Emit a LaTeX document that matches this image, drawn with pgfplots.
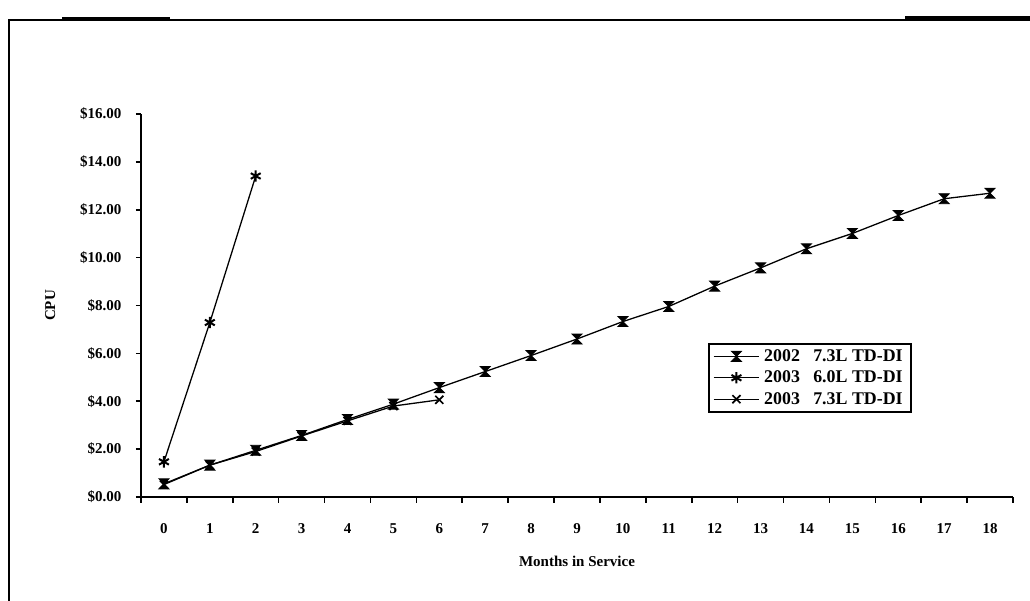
\documentclass[border=0pt]{standalone}
\usepackage{fontspec}
\setmainfont{Liberation Serif}
\usepackage{pgfplots}
\pgfplotsset{compat=1.18}

\pgfdeclareplotmark{hourglass}{%
  \pgfpathmoveto{\pgfqpoint{-\pgfplotmarksize}{\pgfplotmarksize}}%
  \pgfpathlineto{\pgfqpoint{\pgfplotmarksize}{\pgfplotmarksize}}%
  \pgfpathlineto{\pgfqpoint{-\pgfplotmarksize}{-\pgfplotmarksize}}%
  \pgfpathlineto{\pgfqpoint{\pgfplotmarksize}{-\pgfplotmarksize}}%
  \pgfpathclose
  \pgfusepathqfillstroke
}

\begin{document}
\begin{tikzpicture}
\useasboundingbox (0pt,0pt) rectangle (721pt,420.7pt);
\draw[line width=1.3pt] (6.3pt,0pt) -- (6.3pt,406.7pt) -- (721pt,406.7pt);
\draw[line width=2.6pt] (43.4pt,407.4pt) -- (119pt,407.4pt);
\draw[line width=2.6pt] (633.5pt,408pt) -- (721pt,408pt);
\begin{axis}[
  at={(98.7pt,72.8pt)}, anchor=south west,
  width=610.4pt, height=268.1pt, scale only axis,
  xmin=-0.5, xmax=18.5, ymin=0, ymax=16,
  axis x line=bottom, axis y line=left,
  axis line style={-, line width=1.3pt},
  tick align=outside,
  xtick={0,...,18},
  major x tick style={draw=none},
  minor xtick={-0.5,0.5,...,18.5},
  minor tick length=4.2pt,
  major tick length=3.5pt,
  tick style={black, line width=1.1pt},
  ytick={0,2,...,16},
  /pgf/number format/assume math mode=true,
  yticklabel={\$\pgfmathprintnumber[fixed,fixed zerofill,precision=2]{\tick}},
  ticklabel style={font=\bfseries\fontsize{10.5}{12}\selectfont},
  xticklabel style={anchor=center, yshift=-18.5pt},
  yticklabel style={anchor=east, inner sep=0pt, xshift=-10pt},
  xlabel={Months in Service},
  ylabel={CPU},
  label style={font=\bfseries\fontsize{10.5}{12}\selectfont},
  xlabel style={at={(axis description cs:0.5,-0.167)}, anchor=center},
  ylabel style={at={(axis description cs:-0.104,0.5)}, anchor=center},
  legend style={at={(0.65,0.402)}, anchor=north west, draw=black, line width=1.2pt,
    font=\bfseries\fontsize{12.5}{14}\selectfont, row sep=1.2pt, inner xsep=3pt, inner ysep=1.8pt,
    nodes={inner xsep=3pt}},
  legend cell align=left,
  legend image code/.code={\draw[mark repeat=2,mark phase=2] plot coordinates {(0pt,0pt) (16pt,0pt) (32pt,0pt)};},
]
\addplot[black, line width=0.9pt, mark=hourglass, mark size=3.5pt, mark options={solid, fill=black, line width=0.6pt}] coordinates {
(0,0.55) (1,1.33) (2,1.95) (3,2.57) (4,3.24) (5,3.88) (6,4.57) (7,5.24) (8,5.91) (9,6.60)
(10,7.33) (11,7.96) (12,8.81) (13,9.57) (14,10.37) (15,11.01) (16,11.76) (17,12.46) (18,12.69)};
\addlegendentry{2002\ \ \ 7.3L\ TD-DI}
\addplot[black, line width=0.9pt, mark=asterisk, mark size=4pt, mark options={solid, line width=1.4pt}] coordinates {
(0,1.47) (1,7.29) (2,13.41)};
\addlegendentry{2003\ \ \ 6.0L\ TD-DI}
\addplot[black, line width=0.9pt, mark=x, mark size=4pt, mark options={solid, line width=1.2pt}] coordinates {
(0,0.52) (1,1.33) (2,1.90) (3,2.55) (4,3.18) (5,3.80) (6,4.06)};
\addlegendentry{2003\ \ \ 7.3L\ TD-DI}
\end{axis}
\end{tikzpicture}
\end{document}
